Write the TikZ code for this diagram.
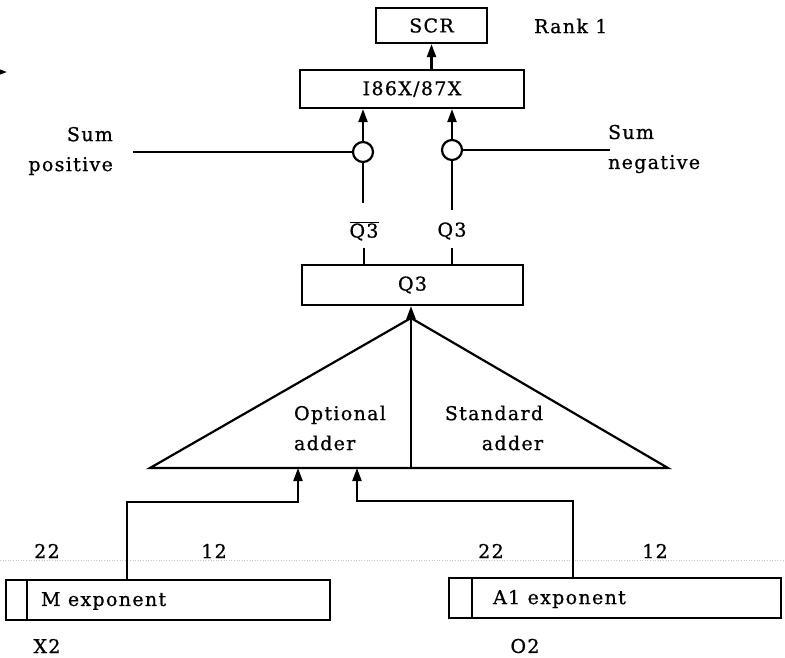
\documentclass[tikz,border=0pt]{standalone}
\usepackage{fontspec}
\setmainfont{DejaVu Serif}[LetterSpace=7,FakeBold=0.8]
\usetikzlibrary{arrows.meta}
\begin{document}
\begin{tikzpicture}[x=1pt,y=-1pt,
  font=\fontsize{19}{30}\selectfont,
  line width=2.2pt,
  reg/.style={draw, rectangle, inner sep=0pt},
  joint/.style={draw, circle, minimum size=20pt, inner sep=0pt, fill=white},
  lbl/.style={inner sep=0pt},
  flow/.style={-{Triangle[length=13pt,width=9pt]}},
  scanline/.style={gray!45, line width=0.6pt, dotted}
]
\useasboundingbox (0,0) rectangle (785,657);

% registers
\node[reg, minimum width=111pt, minimum height=35pt] (scr) at (431.5,25.5) {SCR};
\node[lbl, anchor=west] (rank) at (533,26) {Rank 1};
\node[reg, minimum width=224pt, minimum height=38pt] (io) at (412,89) {I86X/87X};
\node[reg, minimum width=221pt, minimum height=40pt] (q3) at (412.5,285) {Q3};

% sum gates
\node[joint] (gp) at (363,152) {};
\node[joint] (gn) at (452,150) {};
\node[lbl, align=right, anchor=east] (sp) at (114,151) {Sum\\positive};
\node[lbl, align=left, anchor=west] (sn) at (607,149) {Sum\\negative};
\coordinate (sp0) at (133,152);
\coordinate (sn0) at (610,150);

% Q3 outputs
\node[lbl] (q3n) at (364,231) {$\overline{\hbox{Q3}}$};
\node[lbl] (q3p) at (452,231) {Q3};
\coordinate (gpe) at (363,203);
\coordinate (gne) at (452,210);
\coordinate (q3nt) at (364,248);
\coordinate (q3pt) at (452,248);

% adder triangle
\coordinate (ta) at (411,318);
\coordinate (tl) at (150,468);
\coordinate (tr) at (668,468);
\coordinate (tm) at (411,468);
\draw[line join=miter] (tl) -- (ta) -- (tr) -- cycle;
\node[lbl, align=left] (opt) at (340,428) {Optional\\adder};
\node[lbl, align=right] (std) at (494,428) {Standard\\adder};

% exponent registers
\node[reg, minimum width=324pt, minimum height=40pt] (mx) at (168,600) {};
\draw (27,580) -- (27,620);
\node[lbl, anchor=west] (mxt) at (40,601) {M exponent};
\node[reg, minimum width=332pt, minimum height=40pt] (ax) at (615,598) {};
\draw (472,578) -- (472,618);
\node[lbl, anchor=west] (axt) at (492,599) {A1 exponent};

% bit positions and register names
\draw[scanline] (0,560) -- (785,560);
\node[lbl] (m22) at (47,551) {22};
\node[lbl] (m12) at (214,551) {12};
\node[lbl] (a22) at (491,551) {22};
\node[lbl] (a12) at (655,551) {12};
\node[lbl] (x2) at (47,646) {X2};
\node[lbl] (o2) at (525,646) {O2};

% connectors
\draw[flow] (io.north -| scr) -- (scr.south);
\draw[flow] (gp) -- (gp |- io.south);
\draw[flow] (gn) -- (gn |- io.south);
\draw (sp0) -- (gp.west);
\draw (gn.east) -- (sn0);
\draw (gp.south) -- (gpe);
\draw (gn.south) -- (gne);
\draw (q3nt) -- (q3nt |- q3.north);
\draw (q3pt) -- (q3pt |- q3.north);
\draw[flow] (tm) -- (tm |- q3.south);

\coordinate (inL) at (298,468);
\coordinate (inR) at (357,468);
\draw[flow] (mx.north -| 127,0) -- (127,502) -- (298,502) -- (inL);
\draw[flow] (ax.north -| 573,0) -- (573,501) -- (357,501) -- (inR);

% stray lead entering from the left
\coordinate (lead0) at (-20,72);
\coordinate (lead1) at (7,72);
\draw[flow] (lead0) -- (lead1);
\end{tikzpicture}
\end{document}
